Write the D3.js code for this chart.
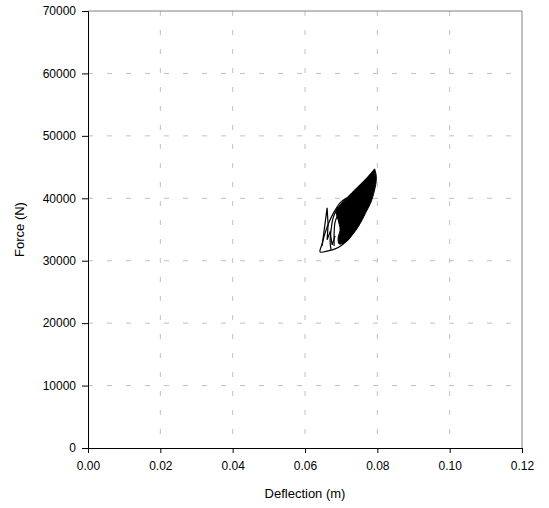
<!DOCTYPE html>
<html><head><meta charset="utf-8">
<script src="https://cdn.jsdelivr.net/npm/d3@7"></script>
<style>body{margin:0;background:#fff}svg{display:block}text{font-family:"Liberation Sans",Arial,sans-serif}</style>
</head><body>
<svg id="c" width="549" height="508"></svg>
<script>
const xTicks = [0.00,0.02,0.04,0.06,0.08,0.10,0.12];
const yTicks = [0,10000,20000,30000,40000,50000,60000,70000];
const xLabel = "Deflection (m)";
const yLabel = "Force (N)";

// dense core of overlapping cycles (outline)
const coreX = [0.07925,0.07710,0.07433,0.07156,0.06971,0.06860,0.06916,0.06971,0.06916,0.06943,0.07082,0.07192,0.07331,0.07469,0.07580,0.07690,0.07828,0.07911,0.07967,0.07967,0.07925];
const coreY = [44713,43270,41668,40065,38943,37982,36539,34937,33655,32693,32853,33334,34296,35417,36539,37821,39424,41027,42629,43751,44713];

// individual outer cycles
const loopAX = [0.07156,0.06971,0.06805,0.06667,0.06556,0.06473,0.06418,0.06639,0.06833,0.07026,0.07220];
const loopAY = [40065,39264,37821,36219,34456,32693,31411,31571,31892,32533,33494];
const loopCX = [0.06916,0.06777,0.06722,0.06694,0.06722];
const loopCY = [38623,36860,34937,33014,31731];
const loopDX = [0.06943,0.06833,0.06805,0.06805];
const loopDY = [37821,36219,34296,32373];
const spikeX = [0.06473,0.06611,0.06639,0.06611,0.06694,0.06750,0.06833];
const spikeY = [32373,38462,35738,33334,34616,32533,33975];

const svg = d3.select("#c");
const L=88,R=522,T=11,B=448;
const x = d3.scaleLinear().domain([0,0.12]).range([L,R]);
const y = d3.scaleLinear().domain([0,70000]).range([B,T]);

// grid
const g = svg.append("g");
g.selectAll("line.vx").data(xTicks.slice(1,-1)).join("line")
 .attr("x1",d=>x(d)).attr("x2",d=>x(d)).attr("y1",T).attr("y2",B)
 .attr("stroke","#c0c0c0").attr("stroke-dasharray","5,14");
g.selectAll("line.hy").data(yTicks.slice(1,-1)).join("line")
 .attr("y1",d=>y(d)).attr("y2",d=>y(d)).attr("x1",L).attr("x2",R)
 .attr("stroke","#c0c0c0").attr("stroke-dasharray","5,14");
// border
svg.append("path").attr("d",`M${L},${T}H${R}V${B}`).attr("fill","none").attr("stroke","#808080");

const zip=(a,b)=>a.map((v,i)=>[v,b[i]]);
const line = d3.line().x(d=>x(d[0])).y(d=>y(d[1]));
const smooth = d3.line().x(d=>x(d[0])).y(d=>y(d[1])).curve(d3.curveCatmullRom);
svg.append("path").attr("d",smooth(zip(coreX,coreY))+"Z").attr("fill","#000").attr("stroke","#000");
[[loopAX,loopAY],[loopCX,loopCY],[loopDX,loopDY]].forEach(([a,b])=>{
  svg.append("path").attr("d",smooth(zip(a,b))).attr("fill","none").attr("stroke","#000").attr("stroke-width",1.2);
});
svg.append("path").attr("d",line(zip(spikeX,spikeY))).attr("fill","none").attr("stroke","#000").attr("stroke-width",1.2);

// axes
const xa = svg.append("g").attr("transform",`translate(0,${B})`)
 .call(d3.axisBottom(x).tickValues(xTicks).tickFormat(d3.format(".2f")).tickSizeOuter(0).tickSize(5).tickPadding(8));
const ya = svg.append("g").attr("transform",`translate(${L},0)`)
 .call(d3.axisLeft(y).tickValues(yTicks).tickFormat(d=>String(d)).tickSizeOuter(0).tickSize(6).tickPadding(6));
[xa,ya].forEach(a=>{a.selectAll("text").attr("font-size",12).attr("fill","#000");a.select(".domain").attr("stroke","#000");a.selectAll(".tick line").attr("stroke","#000");});
svg.append("text").attr("x",305).attr("y",498).attr("text-anchor","middle").attr("font-size",13).text(xLabel);
svg.append("text").attr("transform",`translate(24,${(T+B)/2}) rotate(-90)`).attr("text-anchor","middle").attr("font-size",13).text(yLabel);
</script>
</body></html>
